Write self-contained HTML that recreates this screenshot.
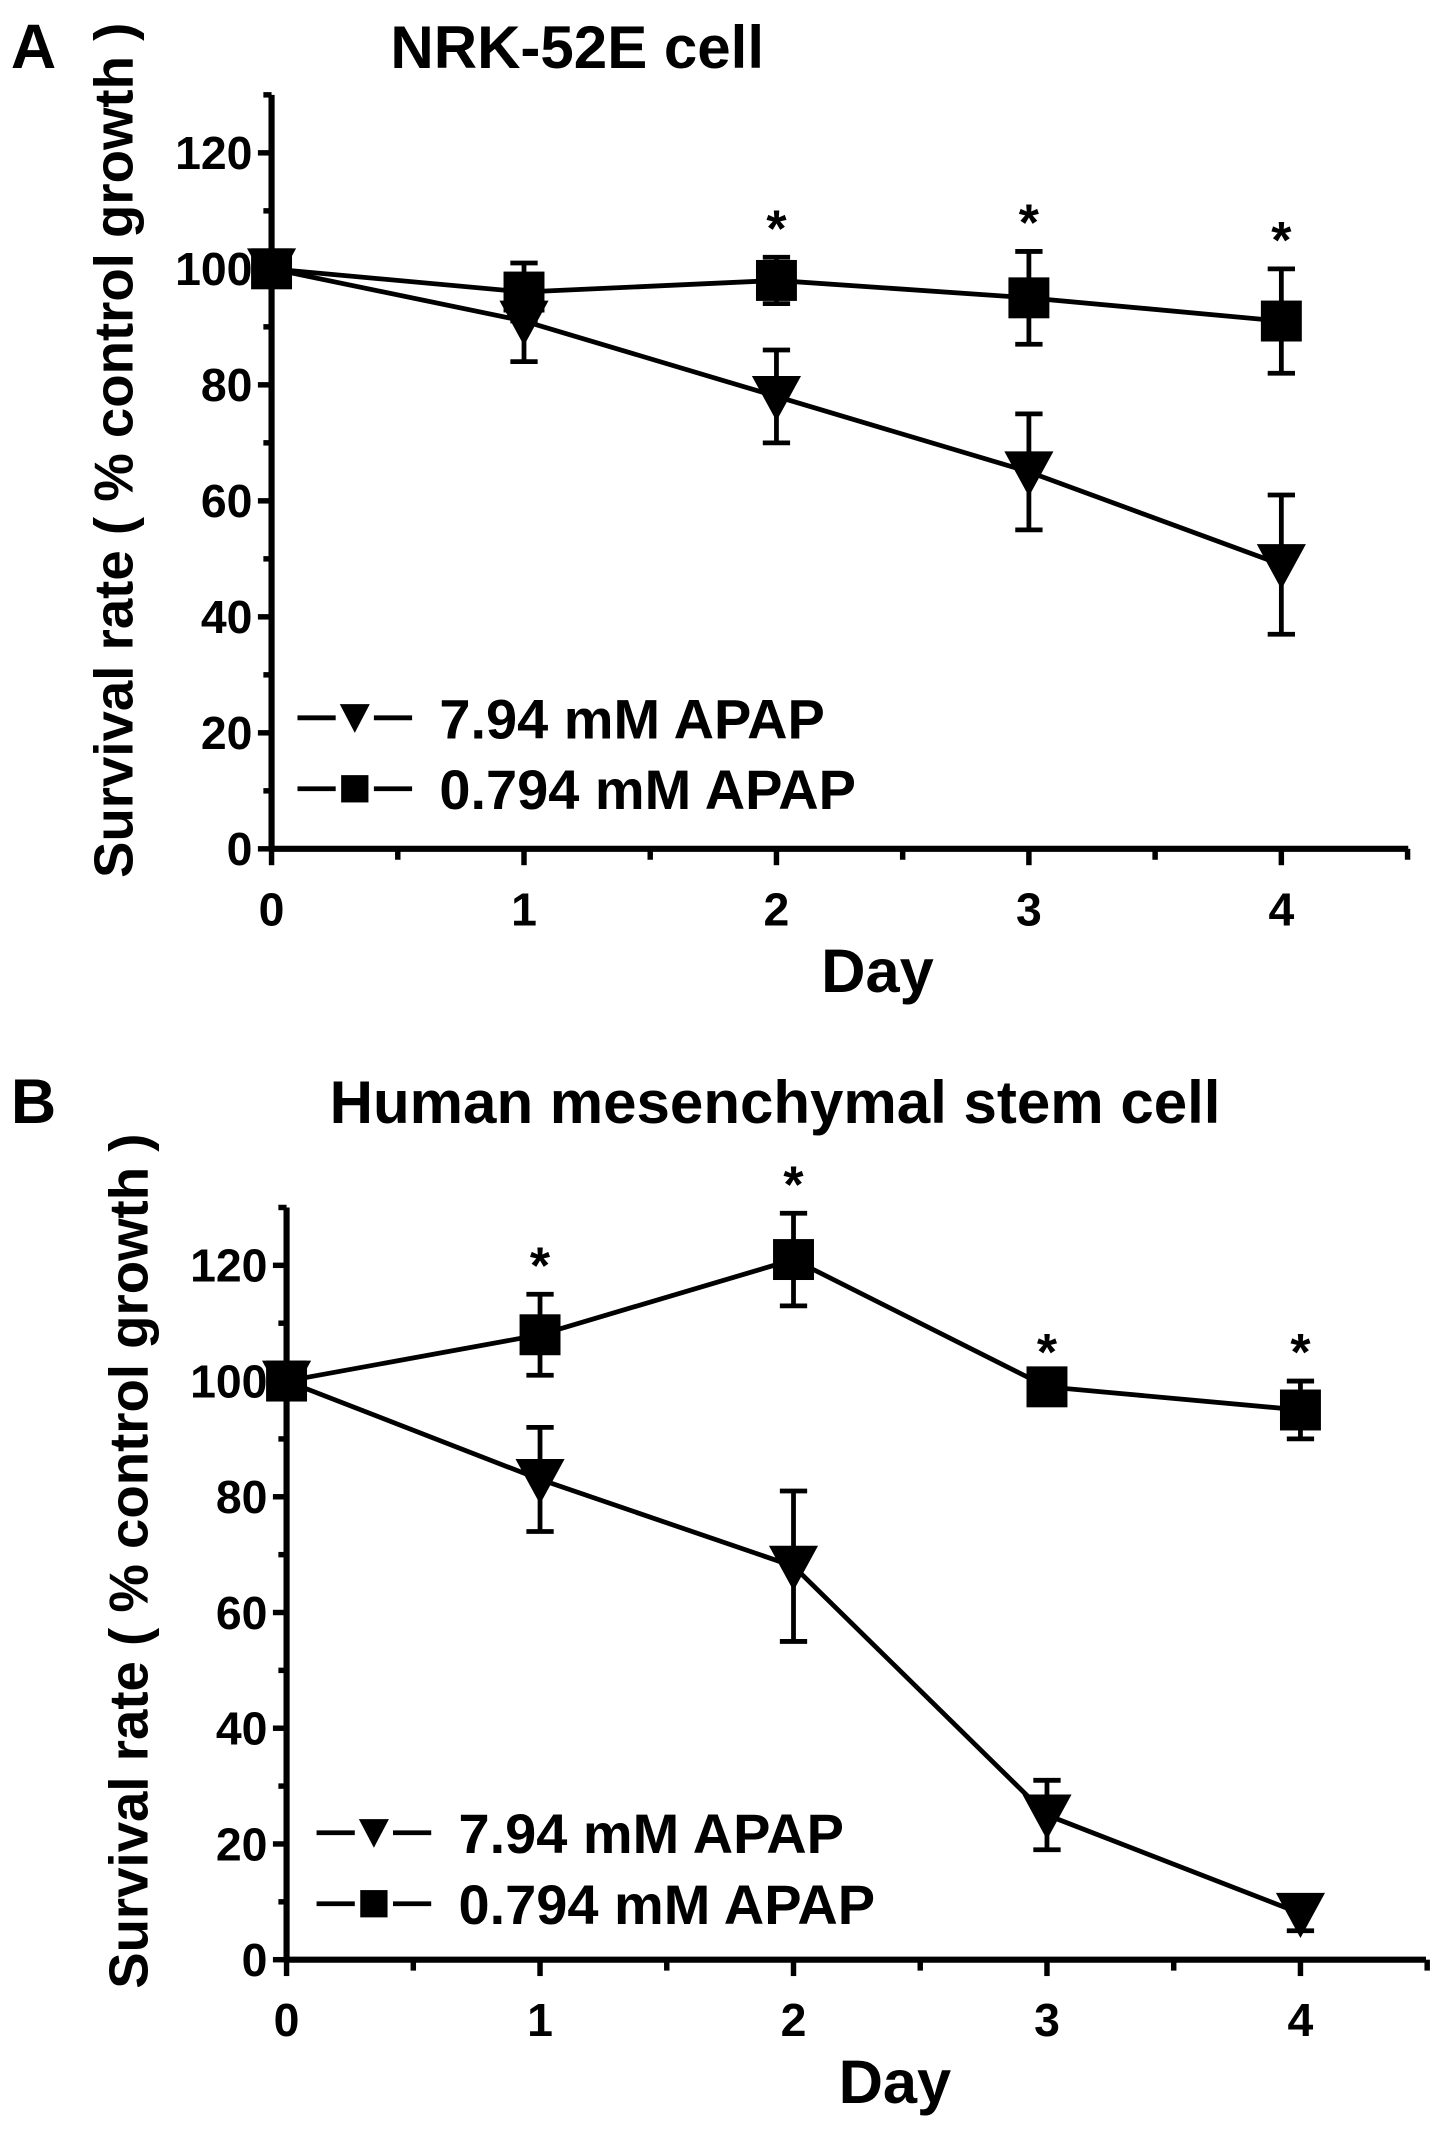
<!DOCTYPE html>
<html><head><meta charset="utf-8"><style>
html,body{margin:0;padding:0;background:#fff}
svg{display:block}
text{font-family:"Liberation Sans",Arial,sans-serif;font-weight:bold;fill:#000}
</style></head><body>
<svg id="fig" width="1441" height="2133" viewBox="0 0 1056 1563" preserveAspectRatio="none" xmlns="http://www.w3.org/2000/svg"></svg>
<script>
const days = [0, 1, 2, 3, 4];
const yTicks = [0, 20, 40, 60, 80, 100, 120];
const aTriVals = [100, 91, 78, 65, 49];
const aTriErr = [0, 7, 8, 10, 12];
const aSqVals = [100, 96, 98, 95, 91];
const aSqErr = [0, 5, 4, 8, 9];
const aStars = [false, false, true, true, true];
const bTriVals = [100, 83, 68, 25, 8];
const bTriErr = [0, 9, 13, 6, 3];
const bSqVals = [100, 108, 121, 99, 95];
const bSqErr = [0, 7, 8, 1, 5];
const bStars = [false, true, true, true, true];
const legendLabels = ["7.94 mM APAP", "0.794 mM  APAP"];

const NS = "http://www.w3.org/2000/svg";
const svg = document.getElementById("fig");
function mk(tag, attrs, parent, txt) {
  const e = document.createElementNS(NS, tag);
  for (const k in attrs) e.setAttribute(k, attrs[k]);
  if (txt !== undefined) e.textContent = txt;
  (parent || svg).appendChild(e);
  return e;
}

function panel(cfg) {
  const g = mk("g", {});
  
  
  const X = d => cfg.x0 + d * cfg.dx;
  const Y = v => cfg.y0 - v * cfg.dy;
  const L = mk("text", {x: 8, y: cfg.titleY + 15, "font-size": 46}, g, cfg.letter);
  
  
  const T = mk("text", {x: cfg.titleX, y: cfg.titleY + 15, "font-size": 44, "text-anchor": "middle"}, g, cfg.title);
  
  
  const ya = mk("line", {x1: cfg.x0, y1: Y(130), x2: cfg.x0, y2: cfg.y0 + 2, stroke: "#000", "stroke-width": 4.5}, g);
  
  
  const xa = mk("line", {x1: cfg.x0 - 2, y1: cfg.y0, x2: cfg.xEnd, y2: cfg.y0, stroke: "#000", "stroke-width": 4.5}, g);
  
  
  for (let v = 0; v <= 130; v += 10) {
    const major = v % 20 === 0;
    mk("line", {x1: cfg.x0 - (major ? 10 : 6), y1: Y(v), x2: cfg.x0, y2: Y(v), stroke: "#000", "stroke-width": 4}, g);
  }
  yTicks.forEach(v => {
    const t = mk("text", {x: cfg.x0 - 14, y: Y(v) + 12, "font-size": 34, "text-anchor": "end"}, g, String(v));
    
    
  });
  for (let d = 0; d <= 4.5; d += 0.5) {
    const major = Math.abs(d - Math.round(d)) < 1e-6;
    mk("line", {x1: X(d), y1: cfg.y0, x2: X(d), y2: cfg.y0 + (major ? 12 : 8), stroke: "#000", "stroke-width": 4}, g);
  }
  days.forEach(d => {
    const t = mk("text", {x: X(d), y: cfg.y0 + 56, "font-size": 34, "text-anchor": "middle"}, g, String(d));
    
    
  });
  const xt = mk("text", {x: X(2.4), y: cfg.y0 + 105, "font-size": 45, "text-anchor": "middle"}, g, "Day");
  
  
  const cy = cfg.y0 - 292;
  const yt = mk("text", {x: 0, y: 0, "font-size": 40, "text-anchor": "middle", transform: `translate(${cfg.x0 - 102},${cy}) rotate(-90)`}, g, "Survival rate ( % control growth )");
  
  

  function series(vals, errs, kind, name) {
    const sg = mk("g", {}, g);
    
    
    mk("polyline", {points: vals.map((v, i) => X(days[i]) + "," + Y(v)).join(" "), fill: "none", stroke: "#000", "stroke-width": 3.5}, sg);
    vals.forEach((v, i) => {
      const x = X(days[i]);
      if (errs[i] > 0) {
        const e = mk("path", {d: `M${x},${Y(v + errs[i])}V${Y(v - errs[i])}M${x - 10},${Y(v + errs[i])}H${x + 10}M${x - 10},${Y(v - errs[i])}H${x + 10}`, stroke: "#000", "stroke-width": 3.5, fill: "none"}, sg);
        
        
      }
      let m;
      if (kind === "sq") m = mk("rect", {x: x - 15, y: Y(v) - 15, width: 30, height: 30, fill: "#000"}, sg);
      else m = mk("path", {d: `M${x - 18},${Y(v) - 15}H${x + 18}L${x},${Y(v) + 18}Z`, fill: "#000"}, sg);
      
      
    });
  }
  series(cfg.tri, cfg.triErr, "tri", "series-7-94-mm");
  series(cfg.sq, cfg.sqErr, "sq", "series-0-794-mm");
  cfg.stars.forEach((s, i) => {
    if (!s) return;
    const top = Math.max(cfg.sq[i] + cfg.sqErr[i], cfg.tri[i] + cfg.triErr[i]);
    const t = mk("text", {x: X(days[i]), y: Y(top) - 8, "font-size": 38, "text-anchor": "middle"}, g, "*");
    
    
  });
  const lg = mk("g", {}, g);
  
  
  [0, 1].forEach(k => {
    const ly = cfg.legY + k * 52, lx = cfg.legX;
    const e = mk("g", {}, lg);
    
    
    mk("path", {d: `M${lx},${ly}H${lx + 28}M${lx + 56},${ly}H${lx + 84}`, stroke: "#000", "stroke-width": 3.5}, e);
    if (k === 0) mk("path", {d: `M${lx + 31},${ly - 10}H${lx + 53}L${lx + 42},${ly + 11}Z`, fill: "#000"}, e);
    else mk("rect", {x: lx + 32, y: ly - 10, width: 20, height: 20, fill: "#000"}, e);
    mk("text", {x: lx + 104, y: ly + 15, "font-size": 41}, e, legendLabels[k]);
  });
}

panel({name: "panel-a-nrk52e", letter: "A", title: "NRK-52E cell", titleX: 423, titleY: 35,
  x0: 199, dx: 185, xEnd: 1032, y0: 622, dy: 85 / 20,
  tri: aTriVals, triErr: aTriErr, sq: aSqVals, sqErr: aSqErr, stars: aStars, legX: 218, legY: 526});
panel({name: "panel-b-hmsc", letter: "B", title: "Human mesenchymal stem cell", titleX: 568, titleY: 808,
  x0: 210, dx: 185.75, xEnd: 1045, y0: 1436, dy: 84.8 / 20,
  tri: bTriVals, triErr: bTriErr, sq: bSqVals, sqErr: bSqErr, stars: bStars, legX: 232, legY: 1343});
</script>
</body></html>
